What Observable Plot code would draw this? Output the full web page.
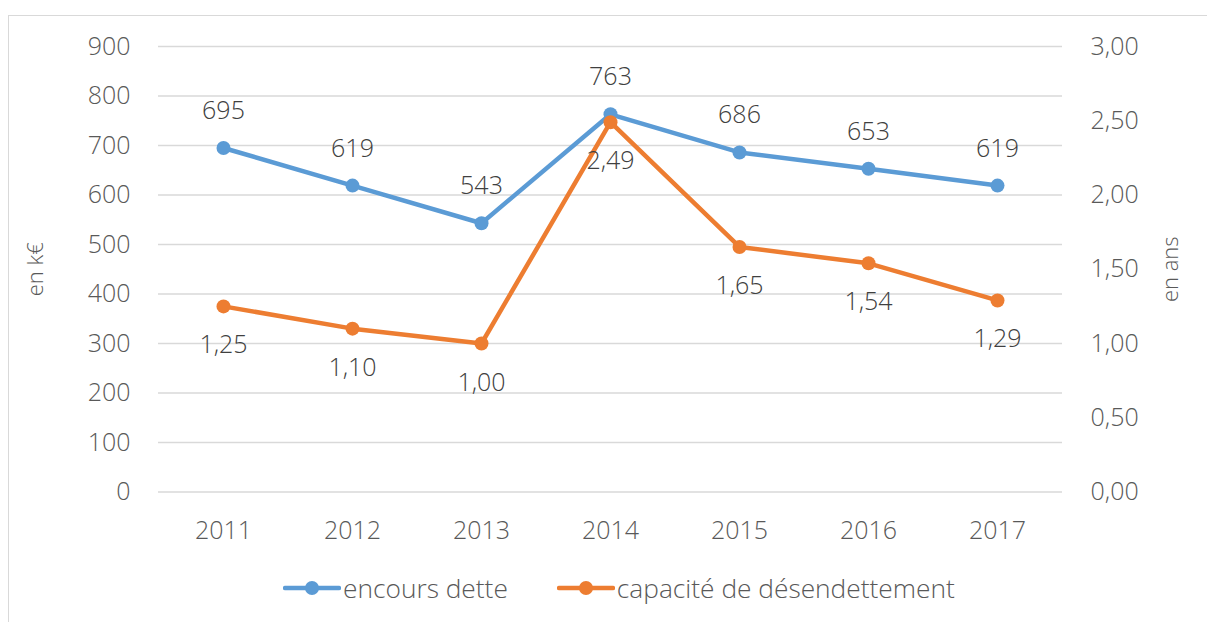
<!DOCTYPE html>
<html><head><meta charset="utf-8">
<script src="https://cdn.jsdelivr.net/npm/d3@7"></script>
<script src="https://cdn.jsdelivr.net/npm/@observablehq/plot@0.6"></script>
<style>
body{margin:0;background:#fff;font-family:"Open Sans",sans-serif;}
#wrap{position:relative;width:1207px;height:622px;overflow:hidden;}
#border{position:absolute;left:8px;top:15px;width:1300px;height:800px;border:1.5px solid #d9d9d9;box-sizing:border-box;}
#chart{position:absolute;left:0;top:0;}
#legend{position:absolute;left:283px;top:570px;display:flex;align-items:center;font-size:26.3px;font-weight:300;color:#595959;}
#legend .item{display:flex;align-items:center;}
#legend svg{display:block;}
</style></head>
<body><div id="wrap"><div id="border"></div><div id="chart"></div><div id="legend"></div></div>
<script>
const years = ["2011","2012","2013","2014","2015","2016","2017"];
const encours = [695, 619, 543, 763, 686, 653, 619];
const capacite = [1.25, 1.10, 1.00, 2.49, 1.65, 1.54, 1.29];
const leftTicks = [0,100,200,300,400,500,600,700,800,900];
const rightTicks = [0,0.5,1,1.5,2,2.5,3];
const seriesNames = ["encours dette","capacité de désendettement"];
const colors = ["#5B9BD5","#ED7D31"];

const k = 900/3;
const fmt2 = v => v.toFixed(2).replace(".", ",");
const dEnc = years.map((y,i)=>({year:y, v:encours[i]}));
const dCap = years.map((y,i)=>({year:y, v:capacite[i], s:capacite[i]*k}));

const plot = Plot.plot({
  width:1207, height:560,
  marginLeft:158, marginRight:145, marginTop:46, marginBottom:68.5,
  style:{fontFamily:"'Open Sans',sans-serif", fontSize:"25px", fontWeight:300, color:"#595959", background:"transparent", overflow:"visible"},
  x:{type:"point", domain:years, padding:0.5},
  y:{domain:[0,900]},
  marks:[
    Plot.gridY(leftTicks, {stroke:"#d9d9d9", strokeOpacity:1, strokeWidth:1.5}),
    Plot.axisY(leftTicks, {anchor:"left", tickSize:0, tickPadding:28, label:null, fill:"#595959"}),
    Plot.axisY(rightTicks.map(v=>v*k), {anchor:"right", tickSize:0, tickPadding:28, label:null, tickFormat:d=>fmt2(d/k), fill:"#595959"}),
    Plot.axisX({tickSize:0, tickPadding:29, label:null, fill:"#595959"}),
    Plot.text(["en k€"], {frameAnchor:"left", textAnchor:"middle", dx:-123, rotate:-90, fontSize:22, fill:"#595959"}),
    Plot.text(["en ans"], {frameAnchor:"right", textAnchor:"middle", dx:108, rotate:-90, fontSize:22, fill:"#595959"}),
    Plot.line(dEnc, {x:"year", y:"v", stroke:colors[0], strokeWidth:4.5}),
    Plot.dot(dEnc, {x:"year", y:"v", r:7, fill:colors[0], stroke:null}),
    Plot.line(dCap, {x:"year", y:"s", stroke:colors[1], strokeWidth:4.5}),
    Plot.dot(dCap, {x:"year", y:"s", r:7, fill:colors[1], stroke:null}),
    Plot.text(dEnc, {x:"year", y:"v", text:d=>String(d.v), dy:-37, fill:"#404040", fontSize:25}),
    Plot.text(dCap, {x:"year", y:"s", text:d=>fmt2(d.v), dy:39, fill:"#404040", fontSize:25})
  ]
});
document.getElementById("chart").appendChild(plot);

const legend = document.getElementById("legend");
seriesNames.forEach((name,i)=>{
  const item = document.createElement("div");
  item.className = "item";
  if (i>0) item.style.marginLeft = "49px";
  const ns = "http://www.w3.org/2000/svg";
  const svg = document.createElementNS(ns,"svg");
  svg.setAttribute("width","58"); svg.setAttribute("height","20");
  const ln = document.createElementNS(ns,"line");
  ln.setAttribute("x1","2"); ln.setAttribute("x2","56"); ln.setAttribute("y1","10"); ln.setAttribute("y2","10");
  ln.setAttribute("stroke",colors[i]); ln.setAttribute("stroke-width","4.5"); ln.setAttribute("stroke-linecap","round");
  const c = document.createElementNS(ns,"circle");
  c.setAttribute("cx","29"); c.setAttribute("cy","10"); c.setAttribute("r","7"); c.setAttribute("fill",colors[i]);
  svg.appendChild(ln); svg.appendChild(c);
  const t = document.createElement("span");
  t.textContent = name;
  t.style.marginLeft = "2px";
  item.appendChild(svg); item.appendChild(t);
  legend.appendChild(item);
});
</script></body></html>
